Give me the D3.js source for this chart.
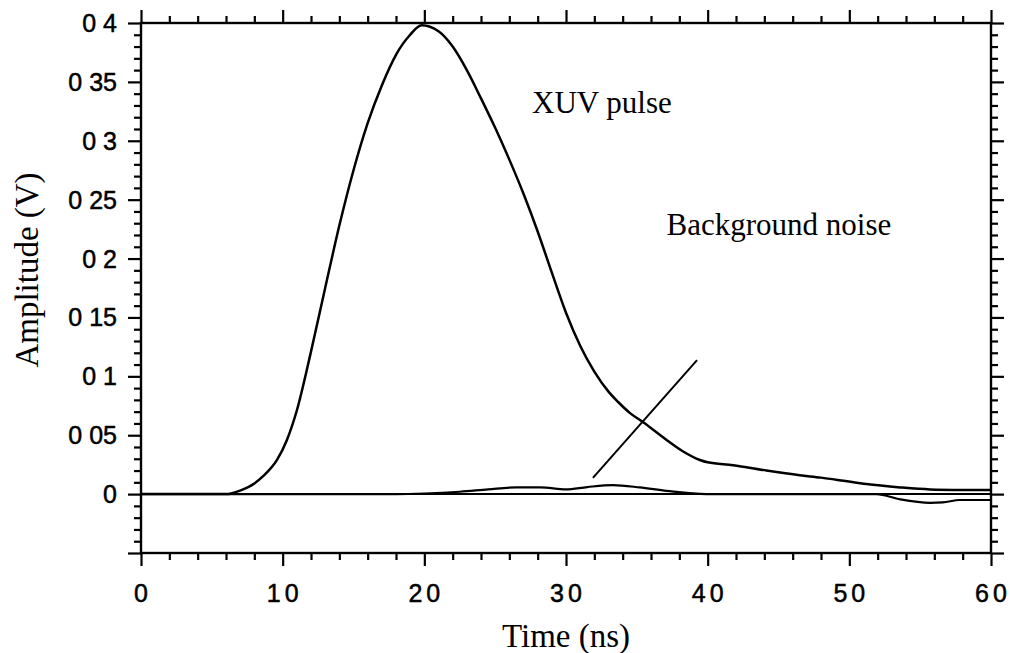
<!DOCTYPE html>
<html>
<head>
<meta charset="utf-8">
<script src="https://cdn.jsdelivr.net/npm/d3@7"></script>
<style>
  html, body { margin: 0; padding: 0; background: #fff; }
  svg { display: block; }
  .tick-label { font-family: "Liberation Sans", Arial, sans-serif; font-size: 25px; fill: #000; stroke: #000; stroke-width: 0.5px; }
  .title { font-family: "Liberation Serif", "Times New Roman", serif; fill: #000; }
</style>
</head>
<body>
<svg id="chart" width="1010" height="653"></svg>
<script>
// XUV pulse trace: time (ns) and amplitude (V)
const pulseTime = [0, 3, 6, 7, 8, 8.6, 9.6, 10.3, 11, 12, 13, 14, 15, 16, 17, 18, 19, 19.8, 21, 22, 23, 24, 25, 26, 27, 28, 29, 30, 31, 32, 33, 33.7, 34.5, 35.45, 37.1, 38.3, 39.45, 40, 41.8, 44.15, 46.5, 48, 49.6, 51.2, 53.6, 55.7, 58, 60];
const pulseAmp  = [0, 0, 0, 0.003, 0.009, 0.015, 0.029, 0.046, 0.071, 0.121, 0.175, 0.228, 0.275, 0.315, 0.347, 0.373, 0.390, 0.398, 0.393, 0.380, 0.360, 0.336, 0.311, 0.284, 0.255, 0.223, 0.188, 0.154, 0.126, 0.104, 0.087, 0.078, 0.069, 0.061, 0.046, 0.036, 0.029, 0.027, 0.0246, 0.020, 0.016, 0.014, 0.0113, 0.0085, 0.0057, 0.004, 0.0035, 0.0034];

// Background noise trace
const noiseTime = [0, 10, 18, 20, 22.5, 24.5, 26.5, 28.2, 30, 31.5, 33.3, 35.2, 37.1, 39.9, 43.2, 46.5, 51.9, 53.6, 55.7, 56.6, 57.8, 60];
const noiseAmp  = [0, 0, 0, 0.0005, 0.002, 0.004, 0.0057, 0.0057, 0.004, 0.006, 0.0076, 0.0057, 0.0028, 0, 0, 0, 0, -0.0045, -0.0074, -0.007, -0.005, -0.005];

// Axis ticks and labels
const xMajor = [0, 10, 20, 30, 40, 50, 60];
const xLabels = ["0", "10", "20", "30", "40", "50", "60"];
const yMajor = [-0.05, 0, 0.05, 0.1, 0.15, 0.2, 0.25, 0.3, 0.35, 0.4];
const yLabels = ["", "0", "0 05", "0 1", "0 15", "0 2", "0 25", "0 3", "0 35", "0 4"];

// Annotations: text anchors and the pointer line, in data units
const pulseNote = { text: "XUV pulse", t: 27.6, v: 0.3236 };
const noiseNote = { text: "Background noise", t: 37.1, v: 0.220 };
const pointer = [[31.9, 0.0138], [39.25, 0.1138]];

const svg = d3.select("#chart");
const x = d3.scaleLinear().domain([0, 60]).range([141, 991]);
const y = d3.scaleLinear().domain([-0.05, 0.4]).range([553, 23]);

const xMinor = d3.range(0, 60.001, 2).filter(d => d % 10 !== 0);
const yMinor = d3.range(-0.05, 0.4001, 0.01).map(d => +d.toFixed(2)).filter(d => Math.abs(d / 0.05 - Math.round(d / 0.05)) > 1e-6);

const MAJ = 13, MIN = 7;

// Outward ticks on all four sides
function tickAxis(axisFn, scale, values, size) {
  return axisFn(scale).tickValues(values).tickSize(size).tickFormat("");
}
const frame = svg.append("g").attr("class", "frame");

const axes = [
  { fn: d3.axisBottom, s: x, tr: `translate(0,${y(-0.05)})`, maj: xMajor, min: xMinor },
  { fn: d3.axisTop, s: x, tr: `translate(0,${y(0.4)})`, maj: xMajor, min: xMinor },
  { fn: d3.axisLeft, s: y, tr: `translate(${x(0)},0)`, maj: yMajor, min: yMinor },
  { fn: d3.axisRight, s: y, tr: `translate(${x(60)},0)`, maj: yMajor, min: yMinor }
];
axes.forEach(a => {
  const gMin = frame.append("g").attr("transform", a.tr).call(tickAxis(a.fn, a.s, a.min, MIN));
  const gMaj = frame.append("g").attr("transform", a.tr).call(tickAxis(a.fn, a.s, a.maj, MAJ));
  [gMin, gMaj].forEach(g => {
    g.select(".domain").remove();
    g.selectAll("line").attr("stroke", "#000").attr("stroke-width", 2.2);
  });
});

// Plot border
frame.append("rect")
  .attr("x", x(0)).attr("y", y(0.4))
  .attr("width", x(60) - x(0)).attr("height", y(-0.05) - y(0.4))
  .attr("fill", "none").attr("stroke", "#000").attr("stroke-width", 2.4);

// Zero line
svg.append("line")
  .attr("x1", x(0)).attr("x2", x(60)).attr("y1", y(0)).attr("y2", y(0))
  .attr("stroke", "#000").attr("stroke-width", 2);

// Tick labels
svg.append("g").selectAll("text").data(xMajor).join("text")
  .attr("class", "tick-label")
  .attr("x", d => x(d) + 2)
  .attr("y", 602)
  .attr("text-anchor", "middle")
  .attr("letter-spacing", "4px")
  .text((d, i) => xLabels[i]);

svg.append("g").selectAll("text").data(yMajor).join("text")
  .attr("class", "tick-label")
  .attr("x", 117)
  .attr("y", d => y(d) + 9)
  .attr("text-anchor", "end")
  .attr("xml:space", "preserve")
  .text((d, i) => yLabels[i]);

// Traces
const line = d3.line().x(d => x(d[0])).y(d => y(d[1])).curve(d3.curveMonotoneX);
svg.append("path")
  .datum(noiseTime.map((t, i) => [t, noiseAmp[i]]))
  .attr("d", line).attr("fill", "none").attr("stroke", "#000").attr("stroke-width", 2.2);
svg.append("path")
  .datum(pulseTime.map((t, i) => [t, pulseAmp[i]]))
  .attr("d", line).attr("fill", "none").attr("stroke", "#000").attr("stroke-width", 2.5);

// Annotations
svg.append("text").attr("class", "title")
  .attr("x", x(pulseNote.t)).attr("y", y(pulseNote.v))
  .attr("font-size", 31).text(pulseNote.text);
svg.append("text").attr("class", "title")
  .attr("x", x(noiseNote.t)).attr("y", y(noiseNote.v))
  .attr("font-size", 31).text(noiseNote.text);
svg.append("line")
  .attr("x1", x(pointer[0][0])).attr("y1", y(pointer[0][1]))
  .attr("x2", x(pointer[1][0])).attr("y2", y(pointer[1][1]))
  .attr("stroke", "#000").attr("stroke-width", 2);

// Axis titles
svg.append("text").attr("class", "title")
  .attr("x", 566).attr("y", 647)
  .attr("text-anchor", "middle").attr("font-size", 33)
  .text("Time (ns)");
svg.append("text").attr("class", "title")
  .attr("transform", "translate(38,270) rotate(-90)")
  .attr("text-anchor", "middle").attr("font-size", 33)
  .text("Amplitude (V)");
</script>
</body>
</html>
